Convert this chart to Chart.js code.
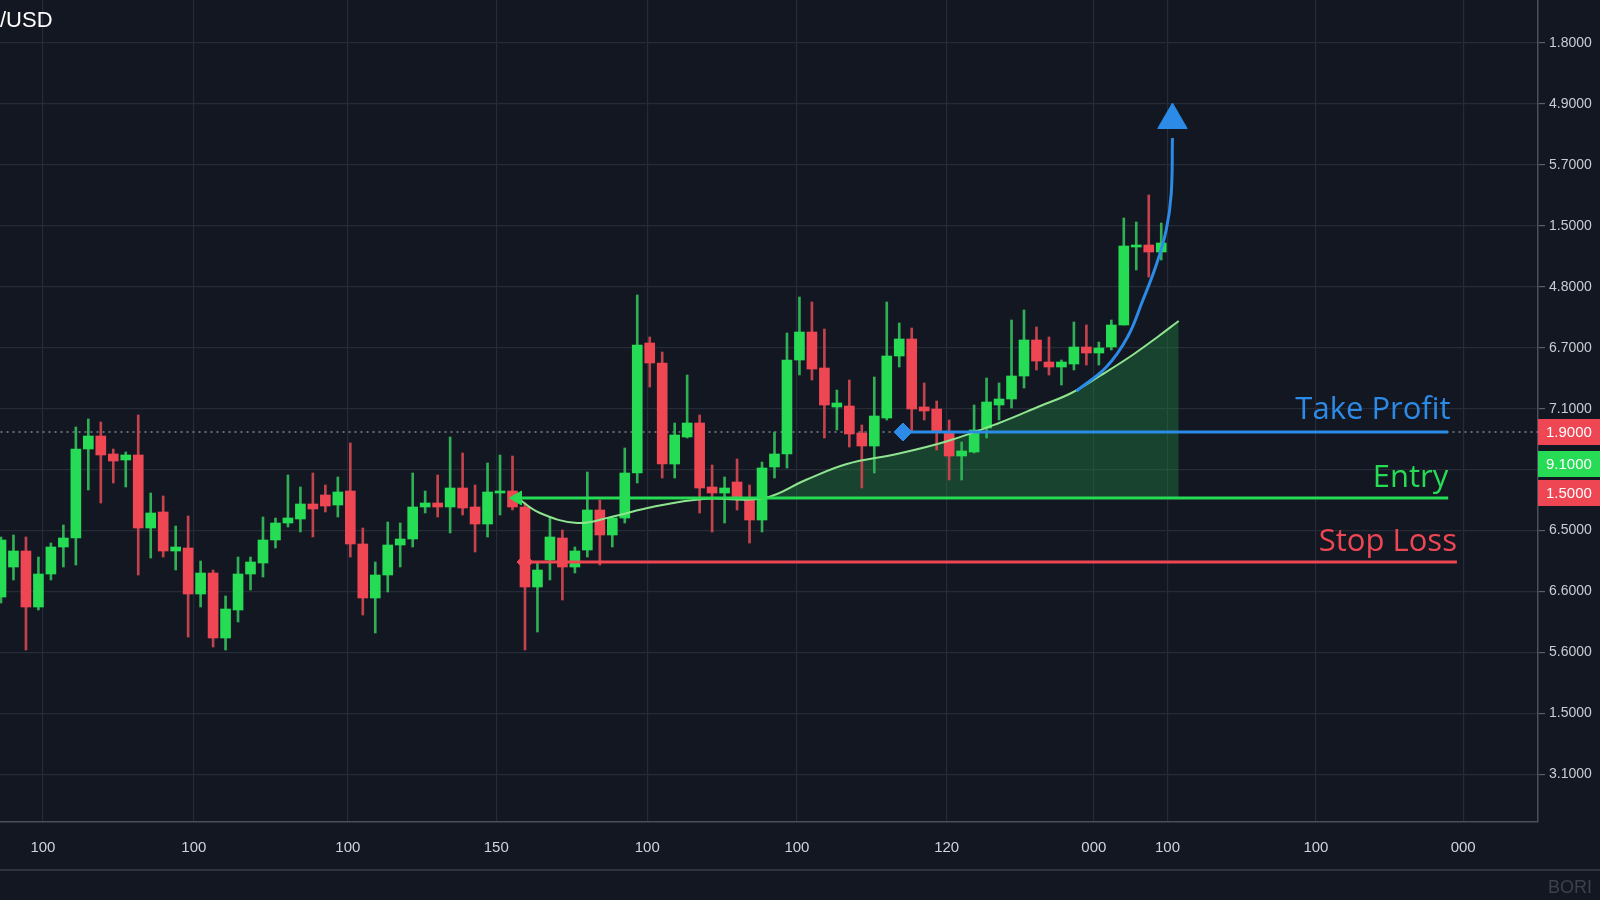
<!DOCTYPE html>
<html><head><meta charset="utf-8">
<script src="https://cdn.jsdelivr.net/npm/chart.js@4/dist/chart.umd.min.js"></script>
<style>html,body{margin:0;padding:0;background:#131722;}#wrap{width:1600px;height:900px;}</style>
</head><body><div id="wrap"><canvas id="c" width="1600" height="900"></canvas></div>
<script>
// Candles (arbitrary price units)
const opens  = [209,239,255,199,232,259,268,357,370,352,346,351,278,294,255,258,212,233,168,196,232,243,266,283,287,302,311,301,315,262,208,231,261,267,299,303,299,318,299,282,313,315,299,219,246,268,239,256,296,271,288,333,463,443,342,369,383,319,313,324,306,286,339,352,446,474,438,399,400,373,360,388,450,467,399,397,374,350,354,378,401,407,430,466,444,439,442,459,453,459,481,559,561,554];
const highs  = [269,271,269,249,263,281,379,387,384,357,354,391,313,310,280,290,245,236,210,249,249,289,288,331,319,333,321,329,363,278,244,284,283,333,315,331,369,353,321,343,351,350,303,243,289,276,259,334,306,289,358,511,469,454,383,431,391,341,329,347,321,344,374,473,509,504,477,416,426,381,429,504,483,478,423,405,386,364,401,428,423,486,496,479,469,446,484,481,464,486,588,584,611,583];
const lows   = [203,226,156,196,226,239,241,316,303,323,319,231,248,249,236,169,199,159,156,184,216,229,258,279,274,269,294,289,249,191,173,214,239,259,293,289,273,291,254,269,291,296,156,174,226,206,233,249,241,259,283,323,419,328,328,368,293,274,283,296,263,274,328,338,431,426,368,376,359,318,333,386,439,374,386,356,326,326,353,368,386,398,418,436,431,421,436,441,441,456,481,536,529,546];
const closes = [266,255,199,232,259,268,357,370,351,345,351,278,293,255,259,212,233,168,197,232,244,266,283,288,302,297,300,314,262,208,231,261,267,299,303,299,318,298,282,314,315,299,219,236,269,239,255,296,271,288,333,461,443,342,371,383,318,313,318,309,286,338,352,446,474,437,401,403,372,360,390,450,467,397,395,374,350,355,376,404,407,430,466,445,439,444,459,453,458,481,560,561,554,563];
// Axes
const xTickPos    = [3.36,15.46,27.8,39.7,51.8,63.8,75.8,87.6,93.5,105.4,117.2];
const xTickLabels = ["100","100","100","150","100","100","120","000","100","100","000"];
const yTickPos    = [31.5,92.5,153.4,214.4,275.4,336.3,397.3,458.3,519.2,580.2,641.2,702.1,763.1];
const yTickLabels = ["3.1000","1.5000","5.6000","6.6000","6.5000","","7.1000","6.7000","4.8000","1.5000","5.7000","4.9000","1.8000"];
// Trade levels
const takeProfit = 374, entry = 308, stopLoss = 244;
const tpRange = [72.3,116.0], entryRange = [41.4,116.0], slRange = [42.0,116.7];
const tagPos = [374,342,313];
const tagValues = ["1.9000","9.1000","1.5000"];
// Moving average
const maX = [41.4,43.2,46.2,48.9,52.2,56.3,61.2,64.5,67.8,71.8,75.9,80.0,83.3,85.8,88.2,90.7,92.7,94.4];
const maY = [308,293,283,289,299,307,308,326,342,352,365,383,400,413,431,451,469,485];
const fillFrom = 6;
// Projection curve
const projX = [86.2,88.6,90.3,91.5,92.6,93.4,93.8,93.9];
const projY = [415,439,469,505,541,576,612,668];
const arrowPt = {x:93.9,y:686};

const GREEN='#27dc55', RED='#ef4653', BLUE='#2b8be6';
const idx = opens.map((_,i)=>i);
const up = idx.filter(i=>closes[i]>=opens[i]), dn = idx.filter(i=>closes[i]<opens[i]);
const body = arr => arr.map(i=>({x:i,y:[opens[i],closes[i]]}));
const wick = arr => arr.map(i=>({x:i,y:[lows[i],highs[i]]}));
const pts = (xs,ys)=>xs.map((x,i)=>({x,y:ys[i]}));

const bg = {id:'bg',beforeDraw(c){const g=c.ctx;g.save();g.fillStyle='#131722';g.fillRect(0,0,c.width,c.height);g.restore();}};
const deco = {id:'deco',afterDraw(c){
  const g=c.ctx,x=c.scales.x,y=c.scales.y;g.save();
  g.strokeStyle='#3a3f4b';g.lineWidth=1.5;g.beginPath();g.moveTo(0,870);g.lineTo(1600,870);g.stroke();
  g.font='500 31px "Open Sans", Roboto, sans-serif';g.textAlign='right';g.textBaseline='middle';
  g.fillStyle=BLUE;g.fillText('Take Profit',x.getPixelForValue(116.2),y.getPixelForValue(396));
  g.fillStyle=GREEN;g.fillText('Entry',x.getPixelForValue(116),y.getPixelForValue(328));
  g.fillStyle=RED;g.fillText('Stop Loss',x.getPixelForValue(116.7),y.getPixelForValue(264));
  const cols=[RED,GREEN,RED];
  g.font='15px "Liberation Sans", Arial, sans-serif';g.textAlign='left';
  tagPos.forEach((t,i)=>{const py=y.getPixelForValue(t);g.fillStyle=cols[i];g.fillRect(x.right,py-13,100,26);g.fillStyle='#ffffff';g.fillText(tagValues[i],x.right+8,py+1);});
  g.fillStyle='#ffffff';g.font='22px "Liberation Sans", Arial, sans-serif';g.textAlign='left';g.fillText('/USD',0,21);
  g.fillStyle='#3c414d';g.font='18px "Liberation Sans", Arial, sans-serif';g.fillText('BORI',1548,888);
  g.restore();}};

new Chart(document.getElementById('c'),{
  type:'bar',
  data:{datasets:[
    {type:'line',data:pts(maX.slice(fillFrom),maY.slice(fillFrom)),borderWidth:0,pointRadius:0,fill:{value:entry},backgroundColor:'rgba(34,150,70,0.35)',tension:0.4,order:20},
    {data:wick(up),backgroundColor:'#2fb055',barThickness:2,grouped:false,order:12},
    {data:wick(dn),backgroundColor:'#c4424c',barThickness:2,grouped:false,order:12},
    {data:body(up),backgroundColor:GREEN,barThickness:10,grouped:false,order:10,minBarLength:2},
    {data:body(dn),backgroundColor:RED,barThickness:10,grouped:false,order:10,minBarLength:2},
    {type:'line',data:[{x:-1,y:takeProfit},{x:124,y:takeProfit}],borderColor:'rgba(200,205,215,0.6)',borderWidth:1.5,borderDash:[2,4],pointRadius:0,order:15},
    {type:'line',data:pts(maX,maY),borderColor:'#8fe58f',borderWidth:2,pointRadius:0,tension:0.4,order:8},
    {type:'line',data:pts(slRange,[stopLoss,stopLoss]),borderColor:RED,borderWidth:3,pointRadius:0,order:6},
    {type:'line',data:pts(entryRange,[entry,entry]),borderColor:GREEN,borderWidth:3,pointRadius:0,order:6},
    {type:'line',data:pts(tpRange,[takeProfit,takeProfit]),borderColor:BLUE,borderWidth:3,pointRadius:0,order:6},
    {type:'line',data:pts(projX,projY),borderColor:BLUE,borderWidth:3,pointRadius:0,tension:0.4,order:5},
    {type:'line',showLine:false,data:[arrowPt],pointStyle:'triangle',pointRadius:17,backgroundColor:BLUE,borderColor:BLUE,order:1},
    {type:'line',showLine:false,data:[{x:tpRange[0],y:takeProfit}],pointStyle:'rectRot',pointRadius:9,backgroundColor:BLUE,borderColor:BLUE,order:1},
    {type:'line',showLine:false,data:[{x:entryRange[0],y:entry}],pointStyle:'triangle',rotation:-90,pointRadius:8,backgroundColor:GREEN,borderColor:GREEN,order:1},
    {type:'line',showLine:false,data:[{x:slRange[0],y:stopLoss}],pointStyle:'rectRot',pointRadius:8,backgroundColor:RED,borderColor:RED,order:1}
  ]},
  options:{
    responsive:false,animation:false,events:[],
    layout:{padding:0,autoPadding:false},
    plugins:{legend:{display:false},tooltip:{enabled:false}},
    scales:{
      x:{type:'linear',min:-0.08,max:123.2,offset:false,
        afterBuildTicks:s=>{s.ticks=xTickPos.map(v=>({value:v}));},
        afterFit:s=>{s.height=78;s.paddingLeft=0;s.paddingRight=0;},
        ticks:{autoSkip:false,maxRotation:0,padding:17,color:'#d0d3da',font:{size:15,family:'"Liberation Sans", Arial'},callback:(v,i)=>xTickLabels[i]},
        grid:{color:'#262b37',lineWidth:1.2,drawTicks:false,offset:false},border:{color:'#4a4f5b',width:1.5}},
      y:{type:'linear',position:'right',min:-16,max:806,
        afterBuildTicks:s=>{s.ticks=yTickPos.map(v=>({value:v}));},
        afterFit:s=>{s.width=62;s.paddingTop=0;s.paddingBottom=0;},
        ticks:{autoSkip:false,padding:4,color:'#c9ccd3',font:{size:14,family:'"Liberation Sans", Arial'},callback:(v,i)=>yTickLabels[i]},
        grid:{color:'#262b37',lineWidth:1.2,tickLength:7,tickColor:'#5a5f6b'},border:{color:'#4a4f5b',width:1.5}}
    }
  },
  plugins:[bg,deco]
});
</script></body></html>
